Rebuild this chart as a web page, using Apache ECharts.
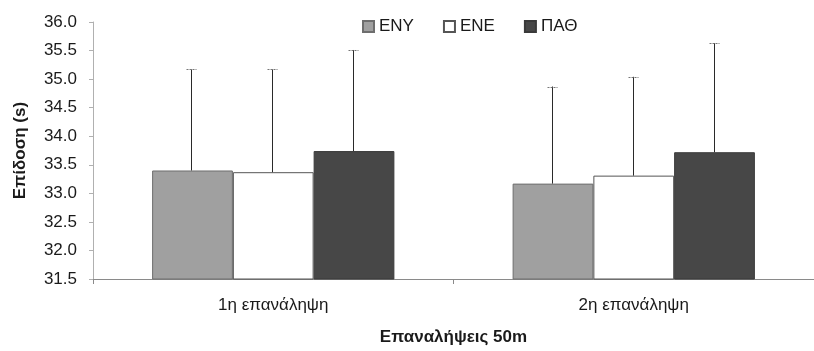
<!DOCTYPE html>
<html>
<head>
<meta charset="utf-8">
<script src="https://cdn.jsdelivr.net/npm/echarts@6/dist/echarts.min.js"></script>
<style>
  html, body { margin: 0; padding: 0; background: #ffffff; }
  #chart { width: 814px; height: 351px; }
</style>
</head>
<body>
<div id="chart"></div>
<script>
// Mean times per repetition and group
const categories = ['1η επανάληψη', '2η επανάληψη'];
const seriesNames = ['ΕΝΥ', 'ΕΝΕ', 'ΠΑΘ'];
const enyMean = [33.40, 33.17];
const eneMean = [33.37, 33.31];
const pathMean = [33.74, 33.72];
// Upper end of each error bar (mean + SD)
const enyUpper = [35.17, 34.87];
const eneUpper = [35.17, 35.04];
const pathUpper = [35.51, 35.63];
const yTicks = { min: 31.5, max: 36.0, interval: 0.5 };

const BAR_FRACTION = 0.224;
const fontFamily = '"Liberation Sans", Arial, sans-serif';
const FS = 17;

const chart = echarts.init(document.getElementById('chart'), null, { renderer: 'canvas' });

function errorData(means, uppers, slot) {
  return means.map((m, i) => [i, uppers[i], m, slot]);
}

const errorSeries = {
  type: 'custom',
  name: 'err',
  z: 5,
  silent: true,
  encode: { x: 0, y: 1 },
  data: [].concat(
    errorData(enyMean, enyUpper, -1),
    errorData(eneMean, eneUpper, 0),
    errorData(pathMean, pathUpper, 1)
  ),
  renderItem: function (params, api) {
    const idx = api.value(0);
    const top = api.coord([idx, api.value(1)]);
    const base = api.coord([idx, api.value(2)]);
    const band = api.size([1, 0])[0];
    const x = Math.round(top[0] + api.value(3) * band * BAR_FRACTION - 1) + 0.5;
    return {
      type: 'group',
      children: [
        { type: 'line', shape: { x1: x, y1: base[1], x2: x, y2: top[1] },
          style: { stroke: '#2a2a2a', lineWidth: 1 } },
        { type: 'line', shape: { x1: x - 5, y1: Math.round(top[1]) + 0.5, x2: x + 5, y2: Math.round(top[1]) + 0.5 },
          style: { stroke: '#777777', lineWidth: 1, lineDash: [2, 1] } }
      ]
    };
  }
};

const option = {
  animation: false,
  backgroundColor: '#ffffff',
  textStyle: { fontFamily: fontFamily },
  legend: {
    data: seriesNames,
    left: 357,
    top: 13,
    itemWidth: 11,
    itemHeight: 11,
    itemGap: 29,
    icon: 'rect',
    textStyle: { fontFamily: fontFamily, fontSize: FS, color: '#1a1a1a', padding: [0, 0, 0, 0] }
  },
  grid: { left: 93, right: -3, top: 22, bottom: 72, containLabel: false },
  xAxis: {
    type: 'category',
    data: categories,
    name: 'Επαναλήψεις 50m',
    nameLocation: 'middle',
    nameGap: 50,
    nameTextStyle: { fontFamily: fontFamily, fontSize: FS, fontWeight: 'bold', color: '#1a1a1a' },
    axisLine: { lineStyle: { color: '#8a8a8a', width: 1 } },
    axisTick: { show: true, alignWithLabel: false, length: 5, lineStyle: { color: '#8a8a8a' } },
    axisLabel: { fontFamily: fontFamily, fontSize: FS, color: '#1a1a1a', margin: 18 }
  },
  yAxis: {
    type: 'value',
    min: yTicks.min,
    max: yTicks.max,
    interval: yTicks.interval,
    name: 'Επίδοση (s)',
    nameLocation: 'middle',
    nameGap: 64,
    nameTextStyle: { fontFamily: fontFamily, fontSize: FS, fontWeight: 'bold', color: '#1a1a1a' },
    axisLine: { show: true, lineStyle: { color: '#b0b0b0', width: 1 } },
    axisTick: { show: true, length: 4, lineStyle: { color: '#b0b0b0' } },
    splitLine: { show: false },
    axisLabel: {
      fontFamily: fontFamily, fontSize: FS, color: '#1a1a1a', margin: 16,
      formatter: v => v.toFixed(1)
    }
  },
  series: [
    {
      name: 'ΕΝΥ', type: 'bar', data: enyMean,
      barWidth: (BAR_FRACTION * 100) + '%', barGap: '0%',
      itemStyle: { color: '#a0a0a0', borderColor: '#6e6e6e', borderWidth: 1 }
    },
    {
      name: 'ΕΝΕ', type: 'bar', data: eneMean,
      barWidth: (BAR_FRACTION * 100) + '%', barGap: '0%',
      itemStyle: { color: '#ffffff', borderColor: '#555555', borderWidth: 1 }
    },
    {
      name: 'ΠΑΘ', type: 'bar', data: pathMean,
      barWidth: (BAR_FRACTION * 100) + '%', barGap: '0%',
      itemStyle: { color: '#474747', borderColor: '#3a3a3a', borderWidth: 1 }
    },
    errorSeries
  ]
};

chart.setOption(option);
</script>
</body>
</html>
